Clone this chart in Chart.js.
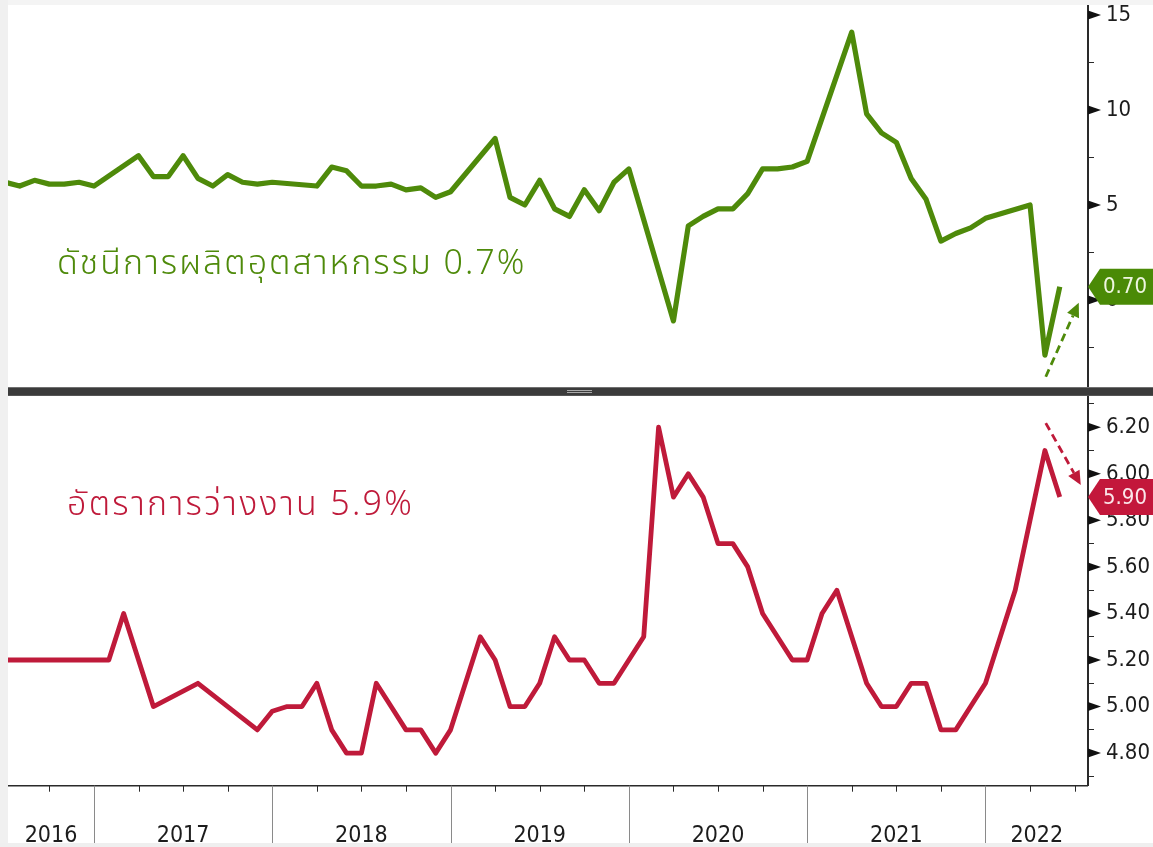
<!DOCTYPE html>
<html>
<head>
<meta charset="utf-8">
<script src="https://cdn.jsdelivr.net/npm/chart.js@4.4.1/dist/chart.umd.min.js"></script>
<style>
html, body { margin: 0; padding: 0; background: #fff; }
#wrap { position: relative; width: 1153px; height: 847px; overflow: hidden; background: #fff; }
#top { position: absolute; left: 0; top: 0; }
#bot { position: absolute; left: 0; top: 396px; }
.strip { position: absolute; left: 0; top: 0; width: 8px; height: 847px; background: #f0f0f0; }
.band { position: absolute; left: 8px; top: 0; width: 1145px; height: 5px; background: #f4f4f4; }
.foot { position: absolute; left: 0; top: 843px; width: 1153px; height: 4px; background: #efefef; }
#bar { position: absolute; left: 8px; top: 387px; width: 1145px; height: 7px; background: #3b3b3b;
       border-top: 1px solid #707070; border-bottom: 1px solid #555; }
#grip { position: absolute; left: 567px; top: 390px; width: 25px; height: 1px;
        border-top: 1px solid #a8a8a8; border-bottom: 1px solid #a8a8a8; }
</style>
</head>
<body>
<div id="wrap">
  <canvas id="top" width="1153" height="387"></canvas>
  <canvas id="bot" width="1153" height="451"></canvas>
  <div class="strip"></div>
  <div class="band"></div>
  <div class="foot"></div>
  <div id="bar"></div>
  <div id="grip"></div>
</div>
<script>
// monthly observations, plotted at month end
const months = [
  '2016-06','2016-07','2016-08','2016-09','2016-10','2016-11','2016-12',
  '2017-01','2017-02','2017-03','2017-04','2017-05','2017-06','2017-07','2017-08','2017-09','2017-10','2017-11','2017-12',
  '2018-01','2018-02','2018-03','2018-04','2018-05','2018-06','2018-07','2018-08','2018-09','2018-10','2018-11','2018-12',
  '2019-01','2019-02','2019-03','2019-04','2019-05','2019-06','2019-07','2019-08','2019-09','2019-10','2019-11','2019-12',
  '2020-01','2020-02','2020-03','2020-04','2020-05','2020-06','2020-07','2020-08','2020-09','2020-10','2020-11','2020-12',
  '2021-01','2021-02','2021-03','2021-04','2021-05','2021-06','2021-07','2021-08','2021-09','2021-10','2021-11','2021-12',
  '2022-01','2022-02','2022-03','2022-04','2022-05'
];

// industrial production, % yoy (no Jan/Feb prints)
const indProd = [
  6.2, 6.0, 6.3, 6.1, 6.1, 6.2, 6.0,
  null, null, 7.6, 6.5, 6.5, 7.6, 6.4, 6.0, 6.6, 6.2, 6.1, 6.2,
  null, null, 6.0, 7.0, 6.8, 6.0, 6.0, 6.1, 5.8, 5.9, 5.4, 5.7,
  null, null, 8.5, 5.4, 5.0, 6.3, 4.8, 4.4, 5.8, 4.7, 6.2, 6.9,
  null, null, -1.1, 3.9, 4.4, 4.8, 4.8, 5.6, 6.9, 6.9, 7.0, 7.3,
  null, null, 14.1, 9.8, 8.8, 8.3, 6.4, 5.3, 3.1, 3.5, 3.8, 4.3,
  null, null, 5.0, -2.9, 0.7
];

// unemployment rate, %
const unemp = [
  5.2, 5.2, 5.2, 5.2, 5.2, 5.2, 5.2,
  5.2, 5.4, null, 5.0, null, null, 5.1, null, null, null, 4.9, 4.98,
  5.0, 5.0, 5.1, 4.9, 4.8, 4.8, 5.1, 5.0, 4.9, 4.9, 4.8, 4.9,
  5.1, 5.3, 5.2, 5.0, 5.0, 5.1, 5.3, 5.2, 5.2, 5.1, 5.1, 5.2,
  5.3, 6.2, 5.9, 6.0, 5.9, 5.7, 5.7, 5.6, 5.4, 5.3, 5.2, 5.2,
  5.4, 5.5, 5.3, 5.1, 5.0, 5.0, 5.1, 5.1, 4.9, 4.9, 5.0, 5.1,
  5.3, 5.5, 5.8, 6.1, 5.9
];

const yearLabels = ['2016', '2017', '2018', '2019', '2020', '2021', '2022'];
const topTicks = [-2.5, 0, 2.5, 5, 7.5, 10, 12.5, 15];
const topLabels = [0, 5, 10, 15];
const botTicks = [4.7, 4.8, 4.9, 5.0, 5.1, 5.2, 5.3, 5.4, 5.5, 5.6, 5.7, 5.8, 5.9, 6.0, 6.1, 6.2, 6.3];
const botLabels = [4.8, 5.0, 5.2, 5.4, 5.6, 5.8, 6.0, 6.2];

const topTitle = 'ดัชนีการผลิตอุตสาหกรรม 0.7%';
const botTitle = 'อัตราการว่างงาน 5.9%';

const GREEN = '#4e8a0a';
const RED = '#bf1a3a';
const AXIS = '#2a2a2a';
const NARROW = '"Liberation Sans Narrow", "DejaVu Sans Condensed", "Liberation Sans", sans-serif';
const THAI = '"Noto Sans Thai", "Noto Sans Thai UI", "Loma", "Garuda", "Noto Sans", sans-serif';
const LABEL_SIZE = 22;

const X_MIN = 2016.518, X_MAX = 2022.575;

function toX(m) {
  const [y, mo] = m.split('-').map(Number);
  return y + mo / 12;
}
function series(vals) {
  return months.map((m, i) => ({ x: toX(m), y: vals[i] }));
}
function lastValue(vals) {
  for (let i = vals.length - 1; i >= 0; i--) if (vals[i] != null) return { x: toX(months[i]), y: vals[i] };
}
function isIn(list, v) { return list.some(l => Math.abs(l - v) < 1e-6); }

function yScale(min, max, ticks, labels, digits) {
  return {
    position: 'right', min: min, max: max,
    afterBuildTicks: s => { s.ticks = ticks.map(v => ({ value: v })); },
    afterFit: s => { s.width = 65; s.paddingTop = 0; s.paddingBottom = 0; },
    border: { display: true, color: AXIS, width: 2 },
    grid: { drawOnChartArea: false, drawTicks: true, tickLength: 6, color: AXIS, lineWidth: 1 },
    ticks: {
      autoSkip: false, padding: 12, color: '#1c1c1c',
      font: { family: NARROW, size: LABEL_SIZE },
      callback: v => isIn(labels, v) ? v.toFixed(digits) : ''
    }
  };
}

function drawMarkers(chart, labels) {
  const { ctx, chartArea } = chart;
  const y = chart.scales.y;
  ctx.save();
  ctx.fillStyle = '#111';
  labels.forEach(v => {
    const py = y.getPixelForValue(v);
    ctx.beginPath();
    ctx.moveTo(chartArea.right, py - 4.5);
    ctx.lineTo(chartArea.right + 13, py);
    ctx.lineTo(chartArea.right, py + 4.5);
    ctx.closePath();
    ctx.fill();
  });
  ctx.restore();
}

function drawTag(chart, value, fill, textColor) {
  const { ctx, chartArea } = chart;
  const py = chart.scales.y.getPixelForValue(value);
  const x0 = chartArea.right, h = 18;
  ctx.save();
  ctx.beginPath();
  ctx.moveTo(x0, py);
  ctx.lineTo(x0 + 12, py - h);
  ctx.lineTo(chart.width, py - h);
  ctx.lineTo(chart.width, py + h);
  ctx.lineTo(x0 + 12, py + h);
  ctx.closePath();
  ctx.fillStyle = fill;
  ctx.fill();
  ctx.fillStyle = textColor;
  ctx.font = LABEL_SIZE + 'px ' + NARROW;
  ctx.textBaseline = 'middle';
  ctx.textAlign = 'left';
  ctx.fillText(value.toFixed(2), x0 + 15, py + 1);
  ctx.restore();
}

function drawArrow(ctx, x1, y1, x2, y2, color) {
  const dx = x2 - x1, dy = y2 - y1, len = Math.hypot(dx, dy);
  const ux = dx / len, uy = dy / len, hl = 14, hw = 6.5;
  const bx = x2 - ux * hl, by = y2 - uy * hl;
  ctx.save();
  ctx.strokeStyle = color;
  ctx.lineWidth = 2.8;
  ctx.setLineDash([8, 5]);
  ctx.beginPath();
  ctx.moveTo(x1, y1);
  ctx.lineTo(bx, by);
  ctx.stroke();
  ctx.setLineDash([]);
  ctx.fillStyle = color;
  ctx.beginPath();
  ctx.moveTo(x2, y2);
  ctx.lineTo(bx - uy * hw, by + ux * hw);
  ctx.lineTo(bx + uy * hw, by - ux * hw);
  ctx.closePath();
  ctx.fill();
  ctx.restore();
}

function drawTitle(ctx, text, x, y, color, spacing) {
  ctx.save();
  ctx.fillStyle = color;
  ctx.font = '300 34px ' + THAI;
  ctx.letterSpacing = spacing + 'px';
  ctx.textBaseline = 'alphabetic';
  ctx.textAlign = 'left';
  ctx.fillText(text, x, y);
  ctx.restore();
}

const topDecor = {
  id: 'topDecor',
  afterDraw(chart) {
    const ctx = chart.ctx;
    drawMarkers(chart, topLabels);
    const last = lastValue(indProd);
    const px = chart.scales.x.getPixelForValue(last.x);
    const py = chart.scales.y.getPixelForValue(last.y);
    drawArrow(ctx, px - 14, py + 90, px + 19, py + 16, GREEN);
    drawTag(chart, last.y, '#4a8a06', '#eef6e0');
    drawTitle(ctx, topTitle, 57, 274, GREEN, 2);
  }
};

const botDecor = {
  id: 'botDecor',
  afterDraw(chart) {
    const { ctx, chartArea } = chart;
    const xs = chart.scales.x;
    drawMarkers(chart, botLabels);

    // time axis
    ctx.save();
    ctx.strokeStyle = AXIS;
    ctx.lineWidth = 1.5;
    ctx.beginPath();
    ctx.moveTo(chartArea.left, chartArea.bottom);
    ctx.lineTo(chartArea.right, chartArea.bottom);
    ctx.stroke();
    ctx.lineWidth = 1;
    for (let q = Math.ceil(X_MIN * 4); q <= Math.floor(X_MAX * 4); q++) {
      const px = Math.round(xs.getPixelForValue(q / 4)) + 0.5;
      ctx.beginPath();
      if (q % 4 === 0) {
        ctx.strokeStyle = '#8a8a8a';
        ctx.moveTo(px, chartArea.bottom);
        ctx.lineTo(px, chart.height);
      } else {
        ctx.strokeStyle = AXIS;
        ctx.moveTo(px, chartArea.bottom);
        ctx.lineTo(px, chartArea.bottom + 6);
      }
      ctx.stroke();
    }
    ctx.fillStyle = '#1c1c1c';
    ctx.font = '23px ' + NARROW;
    ctx.textAlign = 'center';
    ctx.textBaseline = 'alphabetic';
    yearLabels.forEach(lbl => {
      const yv = Number(lbl);
      const a = xs.getPixelForValue(Math.max(yv, X_MIN));
      const b = xs.getPixelForValue(Math.min(yv + 1, X_MAX));
      ctx.fillText(lbl, (a + b) / 2, chartArea.bottom + 56);
    });
    ctx.restore();

    const last = lastValue(unemp);
    const px = xs.getPixelForValue(last.x);
    const py = chart.scales.y.getPixelForValue(last.y);
    drawArrow(ctx, px - 14, py - 74, px + 21, py - 12, RED);
    drawTag(chart, last.y, '#c3173b', '#fbe6ea');
    drawTitle(ctx, botTitle, 67, 119, RED, 2.3);
  }
};

function makeChart(id, vals, color, width, yOpts, padding, plugin) {
  return new Chart(document.getElementById(id).getContext('2d'), {
    type: 'line',
    data: {
      datasets: [{
        data: series(vals),
        borderColor: color,
        borderWidth: width,
        borderJoinStyle: 'round',
        pointRadius: 0,
        tension: 0,
        spanGaps: true,
        clip: 0
      }]
    },
    options: {
      responsive: false,
      animation: false,
      layout: { padding: padding },
      plugins: { legend: { display: false }, tooltip: { enabled: false } },
      scales: {
        x: { type: 'linear', min: X_MIN, max: X_MAX, display: false },
        y: yOpts
      }
    },
    plugins: [plugin]
  });
}

makeChart('top', indProd, GREEN, 5.2,
  yScale(-4.58, 15.53, topTicks, topLabels, 0),
  { left: 8, top: 5, right: 0, bottom: 0 }, topDecor);

makeChart('bot', unemp, RED, 4.8,
  yScale(4.66, 6.33, botTicks, botLabels, 2),
  { left: 8, top: 1, right: 0, bottom: 61.3 }, botDecor);
</script>
</body>
</html>
